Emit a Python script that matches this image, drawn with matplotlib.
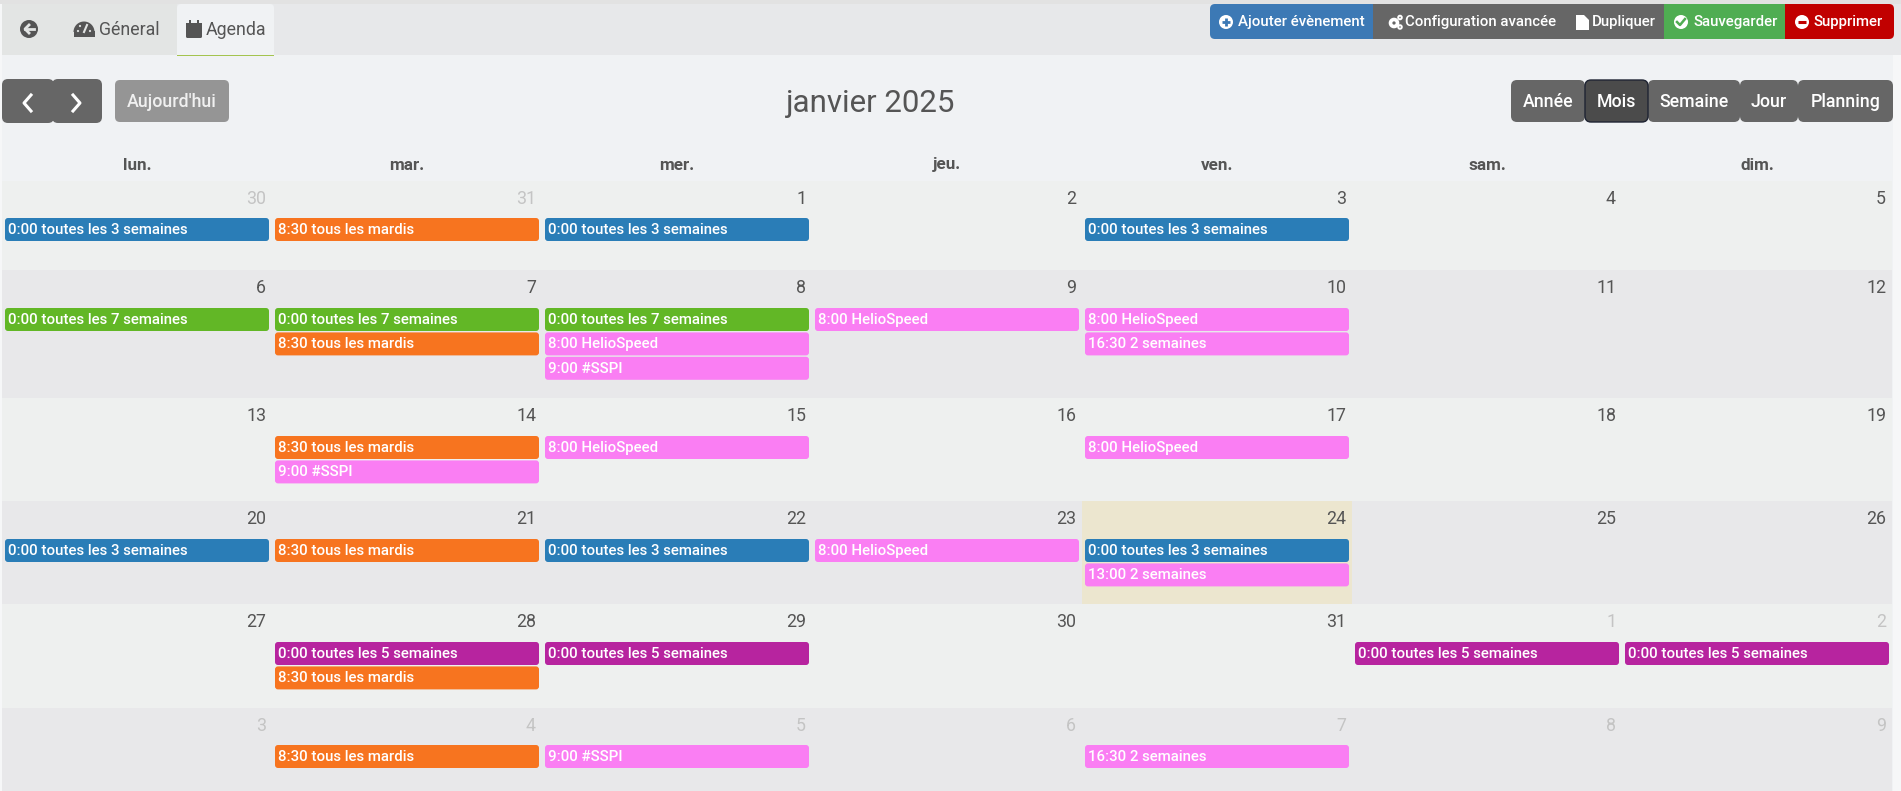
"""Month view of the agenda tab, drawn in pixel coordinates."""
import matplotlib
matplotlib.use("Agg")
import matplotlib.pyplot as plt
from matplotlib.patches import FancyBboxPatch, Rectangle, Circle, Polygon, Wedge

plt.rcParams["font.family"] = ["Roboto", "DejaVu Sans"]

W, H = 1901, 791

# data
title = "janvier 2025"
weekdays = ["lun.", "mar.", "mer.", "jeu.", "ven.", "sam.", "dim."]
week_days = [
    [30, 31, 1, 2, 3, 4, 5],
    [6, 7, 8, 9, 10, 11, 12],
    [13, 14, 15, 16, 17, 18, 19],
    [20, 21, 22, 23, 24, 25, 26],
    [27, 28, 29, 30, 31, 1, 2],
    [3, 4, 5, 6, 7, 8, 9],
]
other_month = [(0, 0), (0, 1), (4, 5), (4, 6)] + [(5, d) for d in range(7)]
today = (3, 4)

# events in display order, cells are (week, weekday)
every_3_weeks = [(0, 0), (0, 2), (0, 4), (3, 0), (3, 2), (3, 4)]
every_5_weeks = [(4, 1), (4, 2), (4, 5), (4, 6)]
every_7_weeks = [(1, 0), (1, 1), (1, 2)]
helio_speed = [(1, 2), (1, 3), (1, 4), (2, 2), (2, 4), (3, 3)]
tuesdays = [(0, 1), (1, 1), (2, 1), (3, 1), (4, 1), (5, 1)]
sspi = [(1, 2), (2, 1), (5, 2)]
two_weeks_13 = [(3, 4)]
two_weeks_16 = [(1, 4), (5, 4)]

BLUE, ORANGE, GREEN, PURPLE, PINK = "#2A7DB7", "#F7741F", "#62B726", "#B7249F", "#FA7EF3"
series = [
    ("0:00 toutes les 3 semaines", every_3_weeks, BLUE),
    ("0:00 toutes les 5 semaines", every_5_weeks, PURPLE),
    ("0:00 toutes les 7 semaines", every_7_weeks, GREEN),
    ("8:00 HelioSpeed", helio_speed, PINK),
    ("8:30 tous les mardis", tuesdays, ORANGE),
    ("9:00 #SSPI", sspi, PINK),
    ("13:00 2 semaines", two_weeks_13, PINK),
    ("16:30 2 semaines", two_weeks_16, PINK),
]

top_buttons = [
    ("Ajouter évènement", 1238),
    ("Configuration avancée", 1405),
    ("Dupliquer", 1592),
    ("Sauvegarder", 1693),
    ("Supprimer", 1814),
]
view_buttons = [
    ("Année", 1511, 1585), ("Mois", 1585, 1648), ("Semaine", 1648, 1740),
    ("Jour", 1740, 1798), ("Planning", 1798, 1893),
]

# layout
grid_x0, col_w = 2, 270
row_tops = [181, 270, 398, 501, 604, 708, 791]
event_tops = [218, 308, 436, 539, 642, 745]
TEXT = "#555555"

fig = plt.figure(figsize=(W / 100, H / 100), dpi=100, facecolor="#F6F7F8")
ax = fig.add_axes([0, 0, 1, 1])
ax.set_xlim(0, W); ax.set_ylim(H, 0); ax.axis("off")


def box(x0, y0, x1, y1, color, r=0, **kw):
    if r:
        p = FancyBboxPatch((x0, y0), x1 - x0, y1 - y0, boxstyle=f"round,pad=0,rounding_size={r}",
                           fc=color, ec=kw.pop("ec", "none"), lw=kw.pop("lw", 0), **kw)
    else:
        p = Rectangle((x0, y0), x1 - x0, y1 - y0, fc=color, ec="none", lw=0, **kw)
    ax.add_patch(p)


def circle_icon(cx, cy, color, mark=None, bg="white", r=7):
    ax.add_patch(Circle((cx, cy), r, fc=bg, ec="none"))
    if mark == "plus":
        ax.plot([cx - 4, cx + 4], [cy, cy], color=color, lw=2, solid_capstyle="butt")
        ax.plot([cx, cx], [cy - 4, cy + 4], color=color, lw=2, solid_capstyle="butt")
    elif mark == "minus":
        ax.plot([cx - 4, cx + 4], [cy, cy], color=color, lw=2.2, solid_capstyle="butt")
    elif mark == "check":
        ax.plot([cx - 4, cx - 1, cx + 4], [cy, cy + 3, cy - 3], color=color, lw=1.8)


# page bands
box(2, 55, 1893, H, "#F0F2F4")
box(0, 0, W, 4, "#E2E2E2")
box(2, 4, W, 55, "#E7E8EA")
box(2, 4, 177, 55, "#E3E5E4")
box(177, 4, 274, 55, "#F0F2F4", r=4)
box(177, 40, 274, 55, "#F0F2F4")
box(177, 55, 274, 56, "#A4C44F")

# tabs
circle_icon(29, 29, "#E3E5E4", bg="#555555", r=9)
ax.plot([34, 25], [29, 29], color="#E3E5E4", lw=2)
ax.plot([29, 25, 29], [25, 29, 33], color="#E3E5E4", lw=2)
ax.add_patch(Wedge((84, 32), 10.5, 180, 360, fc="#555555", ec="none"))
ax.add_patch(Rectangle((73.5, 31), 21, 6, fc="#555555", ec="none"))
ax.plot([84, 87], [32, 25], color="#E3E5E4", lw=1.5)
for gx, gy in [(78, 31), (80, 26), (90, 31)]:
    ax.add_patch(Circle((gx, gy), 1.1, fc="#E3E5E4", ec="none"))
ax.text(99, 30, "Géneral", fontsize=12.8, color=TEXT, ha="left", va="center")
box(186, 24, 202, 38, "#555555", r=1.5)
box(186, 23, 202, 25, "#555555")
box(189, 20, 191, 24, "#555555")
box(197, 20, 199, 24, "#555555")
ax.text(206, 30, "Agenda", fontsize=12.8, color=TEXT, ha="left", va="center")

# action buttons
box(1210, 4, 1380, 39, "#3C79B5", r=5)
box(1780, 4, 1894, 39, "#C10000", r=5)
box(1373, 4, 1664, 39, "#666666")
box(1664, 4, 1785, 39, "#4FAD52")
for label, tx in top_buttons:
    ax.text(tx, 22, label, fontsize=10.8, color="white", ha="left", va="center", fontweight="medium")
circle_icon(1226, 22, "#3C79B5", "plus")
circle_icon(1681, 22, "#4FAD52", "check")
circle_icon(1802, 22, "#C10000", "minus")
ax.add_patch(Circle((1394, 23), 3.5, fc="#666666", ec="white", lw=2.6))
ax.add_patch(Circle((1400, 17.5), 1.8, fc="#666666", ec="white", lw=1.4))
ax.add_patch(Circle((1400, 27), 1.8, fc="#666666", ec="white", lw=1.4))
ax.add_patch(Polygon([(1576, 15), (1584, 15), (1589, 20), (1589, 30), (1576, 30)], fc="white", ec="none"))

# calendar toolbar
box(2, 79, 54, 123, "#666666", r=6)
box(52, 79, 102, 123, "#666666", r=6)
ax.plot([31, 24, 31], [95, 103, 111], color="white", lw=2.2)
ax.plot([73, 80, 73], [95, 103, 111], color="white", lw=2.2)
box(115, 80, 229, 122, "#959595", r=5)
ax.text(172, 102, "Aujourd'hui", fontsize=12.8, color="#F0F0F0", ha="center", va="center", fontweight="medium")
ax.text(870.5, 104, title, fontsize=22.5, color=TEXT, ha="center", va="center")
for label, x0, x1 in view_buttons:
    box(x0, 80, x1, 122, "#666666", r=6)
for label, x0, x1 in view_buttons:
    if label == "Mois":
        box(x0, 80, x1, 122, "#4B4B4B", r=6, ec="#1F2433", lw=1)
    ax.text((x0 + x1) / 2, 102, label, fontsize=12.8, color="white", ha="center", va="center", fontweight="medium")

# weekday header
for d, name in enumerate(weekdays):
    ax.text(grid_x0 + col_w * (d + 0.5), 165, name, fontsize=12.3, color=TEXT, ha="center",
            va="center", fontweight="bold")

# day cells
for w, days in enumerate(week_days):
    top, bottom = row_tops[w], row_tops[w + 1]
    box(grid_x0, top, grid_x0 + 7 * col_w, bottom, "#EEF0EF" if w % 2 == 0 else "#E8E8EA")
    for d, num in enumerate(days):
        if (w, d) == today:
            box(grid_x0 + d * col_w, top, grid_x0 + (d + 1) * col_w, bottom, "#ECE6CF")
        color = "#C4C4C4" if (w, d) in other_month else TEXT
        ax.text(grid_x0 + (d + 1) * col_w - 6, top + 18, str(num), fontsize=12.8, color=color,
                ha="right", va="center")

# events, stacked per cell in series order
used = {}
for label, cells, color in series:
    for w, d in cells:
        slot = used.get((w, d), 0)
        used[(w, d)] = slot + 1
        x0 = grid_x0 + d * col_w + 3
        y0 = event_tops[w] + slot * 24.4
        box(x0, y0, x0 + 264, y0 + 23, color, r=3)
        ax.text(x0 + 3.5, y0 + 12, label, fontsize=10.8, color="white", ha="left", va="center",
                fontweight="medium")

fig.savefig("out.png", dpi=100, facecolor=fig.get_facecolor())
